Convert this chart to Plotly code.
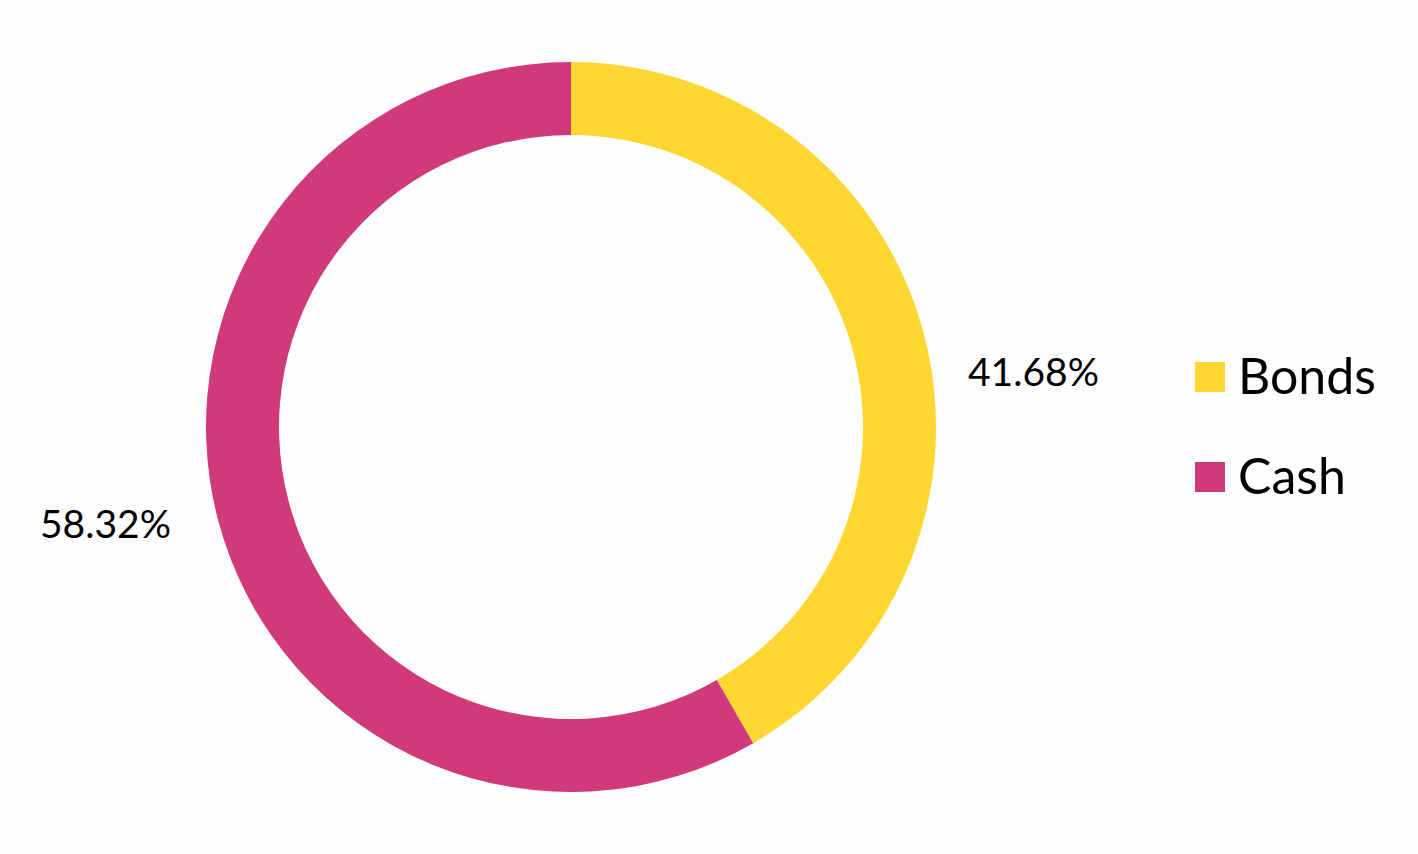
import plotly.graph_objects as go

# ---- data ----
categories = ["Bonds", "Cash"]
values = [41.68, 58.32]
colors = ["#FFD733", "#D0397A"]

W, H = 1418, 854
FONT = "Lato"

fig = go.Figure()
fig.add_trace(go.Pie(
    labels=categories,
    values=values,
    hole=0.8,
    sort=False,
    direction="clockwise",
    rotation=0,
    marker=dict(colors=colors, line=dict(width=0)),
    textinfo="none",
    hoverinfo="label+percent",
    showlegend=False,
    domain=dict(x=[206 / W, 936 / W], y=[62 / H, 792 / H]),
))

# data labels (text from the values)
label_pos = [(1033 / W, 1 - 371 / H), (106 / W, 1 - 523 / H)]
annotations = []
for v, (x, y) in zip(values, label_pos):
    annotations.append(dict(
        x=x, y=y, xref="paper", yref="paper", xanchor="center", yanchor="middle",
        text=f"{v:.2f}%", showarrow=False, font=dict(family=FONT, size=39, color="#000000"),
    ))

# legend (squares + labels)
shapes = []
legend_rows = [377, 477]
for cat, col, yc in zip(categories, colors, legend_rows):
    shapes.append(dict(
        type="rect", xref="paper", yref="paper",
        x0=1195 / W, x1=1225 / W, y0=1 - (yc + 15) / H, y1=1 - (yc - 15) / H,
        fillcolor=col, line=dict(width=0),
    ))
    annotations.append(dict(
        x=1236 / W, y=1 - (yc - 2) / H, xref="paper", yref="paper", xanchor="left", yanchor="middle",
        text=cat, showarrow=False, font=dict(family=FONT, size=50, color="#000000"),
    ))

fig.update_layout(
    width=W, height=H,
    margin=dict(l=0, r=0, t=0, b=0),
    paper_bgcolor="#FEFEFE",
    plot_bgcolor="#FEFEFE",
    annotations=annotations,
    shapes=shapes,
)

fig.write_html(
    "out.html",
    config={"displayModeBar": False},
    post_script="document.body.style.margin='0';document.body.style.padding='0';",
)
